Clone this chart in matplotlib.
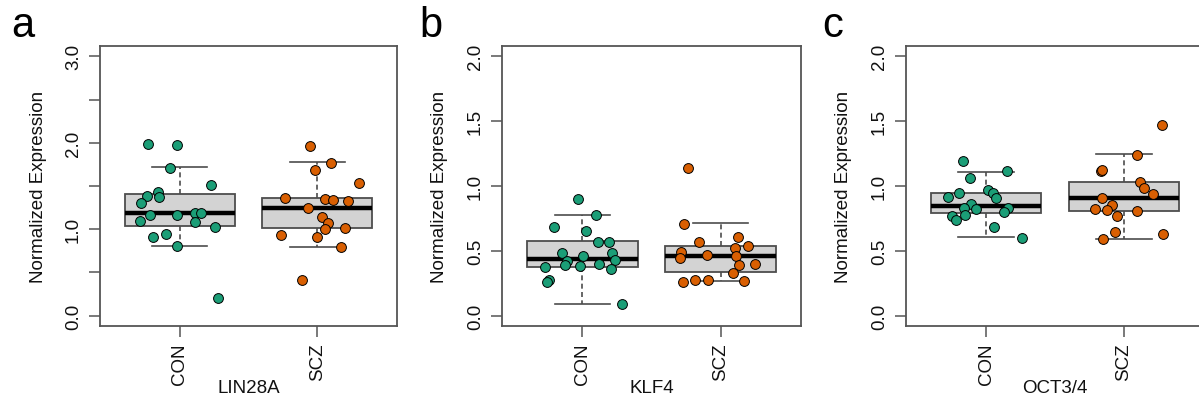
import matplotlib
matplotlib.use("Agg")
import matplotlib.pyplot as plt
import numpy as np

plt.rcParams['font.family'] = ['Liberation Sans', 'DejaVu Sans']

# ---------------- data ----------------
groups = ["CON", "SCZ"]
genes = ["LIN28A", "KLF4", "OCT3/4"]
panel_letters = ["a", "b", "c"]
ylims_max = [3.0, 2.0, 2.0]
yticks_a = [0.0, 0.5, 1.0, 1.5, 2.0, 2.5, 3.0]
yticklabels_a = ["0.0", "", "1.0", "", "2.0", "", "3.0"]
yticks_bc = [0.0, 0.5, 1.0, 1.5, 2.0]
yticklabels_bc = ["0.0", "0.5", "1.0", "1.5", "2.0"]

# LIN28A
lin_con = [1.99, 1.98, 1.71, 1.51, 1.39, 1.43, 1.37, 1.30, 1.16, 1.16, 1.19, 1.19,
           1.09, 1.08, 1.02, 0.91, 0.95, 0.81, 0.20]
lin_con_jit = [-0.229, -0.022, -0.071, 0.227, -0.240, -0.158, -0.151, -0.284, -0.216,
               -0.018, 0.111, 0.157, -0.287, 0.111, 0.259, -0.197, -0.098, -0.022, 0.276]
lin_scz = [1.96, 1.77, 1.68, 1.53, 1.36, 1.35, 1.34, 1.33, 1.25, 1.14, 1.07, 1.00,
           1.01, 0.93, 0.91, 0.79, 0.41]
lin_scz_jit = [-0.053, 0.102, -0.016, 0.304, -0.235, 0.056, 0.112, 0.221, -0.065,
               0.032, 0.080, 0.059, 0.202, -0.264, -0.004, 0.171, -0.111]

# KLF4
klf_con = [0.90, 0.78, 0.68, 0.65, 0.57, 0.57, 0.48, 0.48, 0.46, 0.43, 0.42, 0.39,
           0.40, 0.38, 0.375, 0.357, 0.274, 0.256, 0.09]
klf_con_jit = [-0.033, 0.101, -0.204, 0.027, 0.116, 0.193, -0.145, 0.217, 0.005,
               0.238, -0.113, -0.127, 0.123, -0.014, -0.270, 0.205, -0.243, -0.255, 0.287]
klf_scz = [1.14, 0.71, 0.605, 0.567, 0.538, 0.525, 0.494, 0.468, 0.458, 0.445,
           0.398, 0.39, 0.331, 0.277, 0.274, 0.256, 0.266]
klf_scz_jit = [-0.234, -0.263, 0.127, -0.159, 0.195, 0.103, -0.287, -0.097, 0.108,
               -0.292, 0.250, 0.134, 0.089, -0.184, -0.092, -0.270, 0.171]

# OCT3/4
oct_con = [1.195, 1.112, 1.058, 0.947, 0.918, 0.970, 0.947, 0.908, 0.859, 0.828,
           0.820, 0.830, 0.802, 0.778, 0.768, 0.740, 0.683, 0.598]
oct_con_jit = [-0.169, 0.154, -0.118, -0.193, -0.273, 0.012, 0.049, 0.075, -0.111,
               -0.157, -0.070, 0.162, 0.130, -0.150, -0.249, -0.215, 0.060, 0.261]
oct_scz = [1.469, 1.236, 1.118, 1.125, 1.030, 0.988, 0.942, 0.908, 0.856, 0.820,
           0.812, 0.805, 0.771, 0.642, 0.590, 0.626]
oct_scz_jit = [0.275, 0.092, -0.164, -0.159, 0.116, 0.147, 0.208, -0.157, -0.087,
               -0.212, -0.125, 0.096, -0.051, -0.063, -0.154, 0.280]

# box statistics: [CON, SCZ]
box_med = [[1.19, 1.25], [0.435, 0.46], [0.848, 0.908]]
box_q1 = [[1.04, 1.01], [0.378, 0.336], [0.789, 0.807]]
box_q3 = [[1.405, 1.365], [0.572, 0.535], [0.947, 1.032]]
box_wlo = [[0.80, 0.795], [0.088, 0.264], [0.603, 0.590]]
box_whi = [[1.72, 1.78], [0.78, 0.714], [1.107, 1.244]]

values = [[lin_con, lin_scz], [klf_con, klf_scz], [oct_con, oct_scz]]
jitters = [[lin_con_jit, lin_scz_jit], [klf_con_jit, klf_scz_jit], [oct_con_jit, oct_scz_jit]]
point_colors = ["#1B9E77", "#D95F02"]

# ---------------- figure ----------------
W, H = 1199, 402
fig = plt.figure(figsize=(W / 100, H / 100), dpi=100)

ax_px = [(100, 397), (502, 801), (906, 1204)]
top_px, bot_px = 47, 327
letter_x = [11, 419, 822]

frame_col = "#555555"
fs = 13.5

for i in range(3):
    l, r = ax_px[i]
    ax = fig.add_axes([l / W, (H - bot_px) / H, (r - l) / W, (bot_px - top_px) / H])
    stats = []
    for g in range(2):
        stats.append(dict(med=box_med[i][g], q1=box_q1[i][g], q3=box_q3[i][g],
                          whislo=box_wlo[i][g], whishi=box_whi[i][g], fliers=[]))
    ax.bxp(stats, positions=[1, 2], widths=0.8, patch_artist=True, showfliers=False,
           boxprops=dict(facecolor="#D3D3D3", edgecolor="#4d4d4d", linewidth=1.3),
           medianprops=dict(color="black", linewidth=3.2, solid_capstyle="butt"),
           whiskerprops=dict(color="#4d4d4d", linewidth=1.2, linestyle=(0, (3, 2))),
           capprops=dict(color="#4d4d4d", linewidth=1.2),
           capwidths=0.4)
    for g in range(2):
        xs = np.array(jitters[i][g]) + (g + 1)
        ax.scatter(xs, values[i][g], s=50, c=point_colors[g], edgecolors="black",
                   linewidths=0.7, zorder=5)
    ymax = ylims_max[i]
    pad = 0.04 * ymax
    ax.set_ylim(-pad, ymax + pad)
    ax.set_xlim(0.42, 2.58)
    if i == 0:
        ax.set_yticks(yticks_a)
        ax.set_yticklabels(yticklabels_a)
    else:
        ax.set_yticks(yticks_bc)
        ax.set_yticklabels(yticklabels_bc)
    ax.set_xticks([1, 2])
    ax.set_xticklabels(groups)
    ax.tick_params(axis="y", labelrotation=90, length=8, width=1.1, color=frame_col,
                   labelsize=fs, pad=5, labelcolor="#111111")
    for lab in ax.get_yticklabels():
        lab.set_verticalalignment("center")
    ax.tick_params(axis="x", labelrotation=90, length=8, width=1.1, color=frame_col,
                   labelsize=fs, pad=4, labelcolor="#111111")
    for sp in ax.spines.values():
        sp.set_color(frame_col)
        sp.set_linewidth(1.3)
    ax.set_ylabel("Normalized Expression", fontsize=fs, color="#111111")
    ax.yaxis.set_label_coords(-0.18, 0.5)
    ax.set_xlabel(genes[i], fontsize=fs, color="#111111")
    ax.xaxis.set_label_coords(0.5, -0.19)
    fig.text(letter_x[i] / W, (H - 37) / H, panel_letters[i], fontsize=30,
             ha="left", va="baseline", color="black")

fig.savefig("out.png", dpi=100)
